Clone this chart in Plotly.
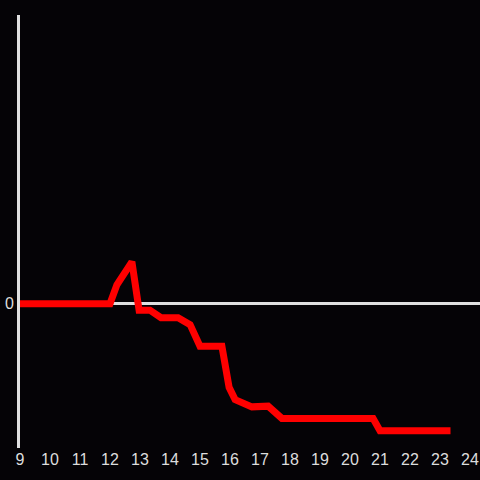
import plotly.graph_objects as go

x_vals = [9, 12.0, 12.23, 12.73, 12.97, 13.33, 13.7, 14.27, 14.67, 15.0, 15.73,
          15.97, 16.17, 16.73, 17.27, 17.73, 20.77, 21.0, 23.35]
y_vals = [0, 0, 1.3, 2.9, -0.45, -0.45, -0.97, -0.97, -1.45, -2.95, -2.95,
          -5.8, -6.65, -7.15, -7.1, -7.95, -7.95, -8.8, -8.8]
x_ticks = list(range(9, 25))
y_ticks = [0]

fig = go.Figure()
fig.add_trace(go.Scatter(x=x_vals, y=y_vals, mode="lines",
                         line=dict(color="#ff0000", width=7),
                         hoverinfo="skip"))

fig.update_layout(
    width=480, height=480,
    margin=dict(l=20, r=0, t=15, b=32),
    paper_bgcolor="#050306", plot_bgcolor="#050306",
    showlegend=False,
    font=dict(family="Liberation Sans, Arial", size=16, color="#dddddd"),
)
fig.update_xaxes(range=[9, 24.333], tickvals=x_ticks,
                 ticktext=[str(t) for t in x_ticks],
                 showgrid=False, zeroline=False, showline=False,
                 ticks="", ticklen=0)
fig.update_yaxes(range=[-10, 20], tickvals=y_ticks, ticktext=["0"],
                 showgrid=False, zeroline=True, zerolinecolor="#e0e0e0",
                 zerolinewidth=3, showline=True, linecolor="#e0e0e0",
                 linewidth=3, ticks="", ticklen=0)

post = ("document.body.style.margin='0';"
        "document.body.style.padding='0';"
        "document.body.style.overflow='hidden';"
        "document.body.style.background='#050306';")
fig.write_html("out.html", post_script=post,
               config={"displayModeBar": False, "staticPlot": True})
